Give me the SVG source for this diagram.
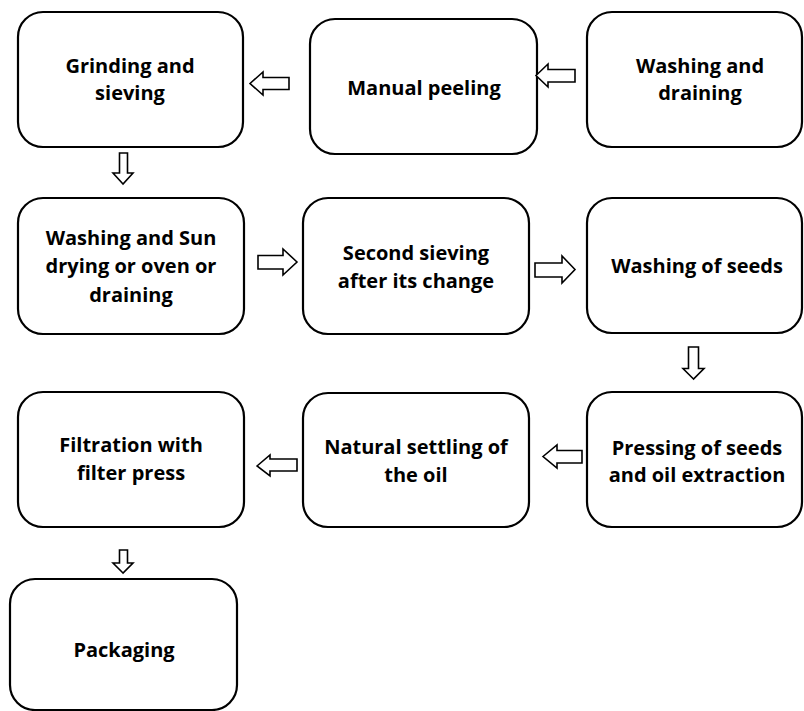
<svg xmlns="http://www.w3.org/2000/svg" width="804" height="711" viewBox="0 0 804 711">
<style>
.box{fill:#fff;stroke:#000;stroke-width:2.2}
.arr{fill:#fff;stroke:#000;stroke-width:1.6;stroke-linejoin:miter}
text{font-family:"Open Sans",Lato,"Liberation Sans",sans-serif;font-weight:bold;font-size:20px;fill:#000;text-anchor:middle}
</style>
<rect width="804" height="711" fill="#fff"/>
<g id="n1"><rect class="box" x="18" y="12" width="225" height="135" rx="25"/><text x="130" y="73">Grinding and</text><text x="130" y="100">sieving</text></g>
<g id="n2"><rect class="box" x="310" y="19" width="227" height="135" rx="25"/><text x="424" y="95">Manual peeling</text></g>
<g id="n3"><rect class="box" x="587" y="12" width="215" height="135" rx="25"/><text x="700" y="73">Washing and</text><text x="700" y="100">draining</text></g>
<g id="n4"><rect class="box" x="18" y="198" width="226" height="136" rx="25"/><text x="131" y="245">Washing and Sun</text><text x="131" y="273">drying or oven or</text><text x="131" y="302">draining</text></g>
<g id="n5"><rect class="box" x="303" y="198" width="226" height="136" rx="25"/><text x="416" y="260">Second sieving</text><text x="416" y="288">after its change</text></g>
<g id="n6"><rect class="box" x="587" y="198" width="215" height="135" rx="25"/><text x="697" y="273">Washing of seeds</text></g>
<g id="n7"><rect class="box" x="18" y="392" width="226" height="135" rx="25"/><text x="131" y="452">Filtration with</text><text x="131" y="480">filter press</text></g>
<g id="n8"><rect class="box" x="303" y="393" width="226" height="134" rx="25"/><text x="416" y="454">Natural settling of</text><text x="416" y="482">the oil</text></g>
<g id="n9"><rect class="box" x="587" y="392" width="215" height="135" rx="25"/><text x="697" y="455">Pressing of seeds</text><text x="697" y="482">and oil extraction</text></g>
<g id="n10"><rect class="box" x="10" y="579" width="227" height="131" rx="25"/><text x="124" y="657">Packaging</text></g>
<g id="connectors">
<polygon class="arr" points="250,83.5 263,72 263,77.5 289,77.5 289,89.5 263,89.5 263,95"/>
<polygon class="arr" points="536,75.5 548,64 548,69.5 575,69.5 575,82 548,82 548,87"/>
<polygon class="arr" points="123,184 113,173 119.5,173 119.5,153 127.5,153 127.5,173 133,173"/>
<polygon class="arr" points="297,262 283,249 283,255.5 258,255.5 258,269 283,269 283,275"/>
<polygon class="arr" points="575,269.5 562,256 562,263 535,263 535,277 562,277 562,283"/>
<polygon class="arr" points="693.5,379 683,368.5 688.5,368.5 688.5,347 698.5,347 698.5,368.5 704,368.5"/>
<polygon class="arr" points="543,456.5 557,445 557,450.5 582,450.5 582,463 557,463 557,468"/>
<polygon class="arr" points="257,466 270,455 270,459 297,459 297,471 270,471 270,476"/>
<polygon class="arr" points="123,573 113,563 119.5,563 119.5,550 127.5,550 127.5,563 133,563"/>
</g>
</svg>
